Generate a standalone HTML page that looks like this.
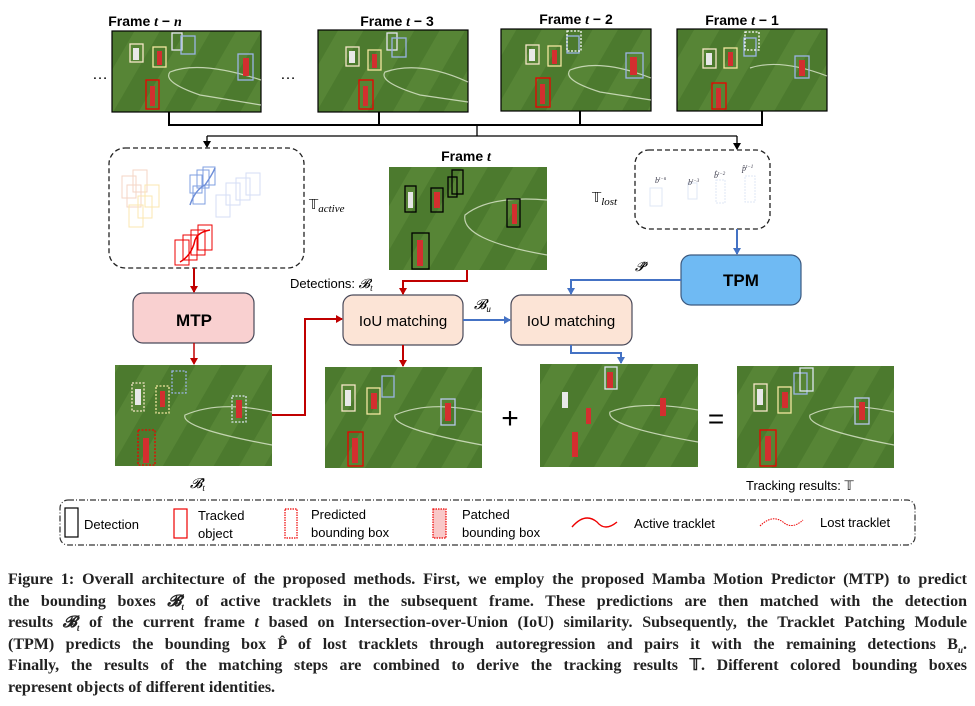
<!DOCTYPE html>
<html><head><meta charset="utf-8"><style>
body{margin:0;background:#fff;width:975px;height:706px;overflow:hidden;position:relative;font-family:"Liberation Sans",sans-serif}
svg{position:absolute;left:0;top:0}
.cap{position:absolute;left:8px;width:959px;font-family:"Liberation Serif",serif;font-weight:bold;font-size:16px;line-height:21px;color:#222}
.cap div{text-align:justify;text-align-last:justify;white-space:nowrap;height:21.5px}
.cap div.l{text-align-last:left}
</style></head><body>
<svg width="975" height="706" viewBox="0 0 975 706">
<defs>
<pattern id="f" patternUnits="userSpaceOnUse" width="44" height="44" patternTransform="rotate(30)">
<rect width="44" height="44" fill="#4c7a2e"/><rect width="22" height="44" fill="#578536"/>
</pattern>
<marker id="ak" markerWidth="8" markerHeight="8" refX="6" refY="4" orient="auto" markerUnits="userSpaceOnUse"><path d="M0,0L7,4L0,8z" fill="#000"/></marker>
<marker id="ar" markerWidth="8" markerHeight="8" refX="6" refY="4" orient="auto" markerUnits="userSpaceOnUse"><path d="M0,0L7,4L0,8z" fill="#c00000"/></marker>
<marker id="ab" markerWidth="8" markerHeight="8" refX="6" refY="4" orient="auto" markerUnits="userSpaceOnUse"><path d="M0,0L7,4L0,8z" fill="#4472c4"/></marker>
</defs>
<g font-family="Liberation Sans" font-weight="bold" font-size="14" text-anchor="middle">
<text x="145" y="26">Frame <tspan font-family="Liberation Serif" font-style="italic">t</tspan> − <tspan font-family="Liberation Serif" font-style="italic">n</tspan></text>
<text x="397" y="26">Frame <tspan font-family="Liberation Serif" font-style="italic">t</tspan> − 3</text>
<text x="576" y="24">Frame <tspan font-family="Liberation Serif" font-style="italic">t</tspan> − 2</text>
<text x="742" y="25">Frame <tspan font-family="Liberation Serif" font-style="italic">t</tspan> − 1</text>
<text x="466" y="161">Frame <tspan font-family="Liberation Serif" font-style="italic">t</tspan></text>
</g>
<text x="100" y="79" font-size="16" text-anchor="middle">…</text>
<text x="288" y="79" font-size="16" text-anchor="middle">…</text>
<g stroke="#000" stroke-width="1.2">
<rect x="112" y="31" width="149" height="81" fill="url(#f)"/>
<rect x="318" y="30" width="150" height="82" fill="url(#f)"/>
<rect x="501" y="29" width="150" height="82" fill="url(#f)"/>
<rect x="677" y="29" width="150" height="82" fill="url(#f)" />
</g>
<rect x="389" y="167" width="158" height="103" fill="url(#f)"/>
<rect x="115" y="365" width="157" height="101" fill="url(#f)"/>
<rect x="325" y="367" width="157" height="101" fill="url(#f)"/>
<rect x="540" y="364" width="158" height="103" fill="url(#f)"/>
<rect x="737" y="366" width="157" height="102" fill="url(#f)"/>
<g fill="none" stroke="#dfe8d0" stroke-width="1.2" opacity=".8">
<path d="M261,80 Q200,60 170,72 Q162,82 200,95 L261,105"/>
<path d="M468,82 Q420,60 385,72 Q378,82 420,95 L468,102"/>
<path d="M651,78 Q600,58 570,70 Q562,80 600,92 L651,100"/>
<path d="M827,76 Q780,58 750,68"/>
<path d="M547,200 Q490,195 465,215 Q460,240 547,255"/>
<path d="M272,412 Q220,400 185,415 Q180,428 272,445"/>
<path d="M482,412 Q430,400 395,415 Q390,428 482,445"/>
<path d="M698,410 Q640,400 610,412 Q605,426 698,442"/>
<path d="M894,412 Q840,400 810,415 Q805,428 894,445"/>
</g>
<g fill="none" stroke-width="1.3">
<g stroke="#f5e6c8"><rect x="130" y="44" width="13" height="18"/><rect x="346" y="47" width="13" height="19"/><rect x="526" y="45" width="13" height="19"/><rect x="703" y="49" width="13" height="19"/></g>
<g stroke="#f3e7a0"><rect x="153" y="47" width="13" height="20"/><rect x="368" y="50" width="13" height="20"/><rect x="548" y="46" width="13" height="20"/><rect x="724" y="48" width="13" height="20"/></g>
<g stroke="#e6e6f0"><rect x="172" y="33" width="10" height="17"/><rect x="387" y="33" width="10" height="17"/></g>
<g stroke="#9bb4e6"><rect x="181" y="36" width="14" height="18"/><rect x="238" y="54" width="15" height="26"/><rect x="392" y="38" width="14" height="19"/><rect x="567" y="36" width="12" height="17"/><rect x="626" y="53" width="17" height="25"/><rect x="744" y="38" width="12" height="18"/><rect x="795" y="56" width="14" height="22"/></g>
<g stroke="#e00"><rect x="146" y="80" width="13" height="29"/><rect x="359" y="80" width="14" height="29"/><rect x="536" y="78" width="14" height="29"/><rect x="712" y="83" width="14" height="26"/></g>
<g stroke="#fff" stroke-dasharray="2,1.5"><rect x="567" y="31" width="14" height="20"/><rect x="745" y="32" width="14" height="18"/></g>
<g stroke="#000"><rect x="405" y="186" width="11" height="26"/><rect x="431" y="188" width="12" height="24"/><rect x="448" y="177" width="9" height="20"/><rect x="452" y="170" width="11" height="24"/><rect x="507" y="199" width="13" height="28"/><rect x="412" y="233" width="17" height="36"/></g>
<g stroke-dasharray="2,1.5"><rect x="132" y="383" width="12" height="28" stroke="#f5e6c8"/><rect x="156" y="386" width="13" height="27" stroke="#f3e7a0"/><rect x="172" y="371" width="14" height="22" stroke="#9bb4e6"/><rect x="232" y="396" width="14" height="26" stroke="#dce6f0"/><rect x="138" y="430" width="17" height="35" stroke="#e00"/></g>
<rect x="342" y="385" width="13" height="26" stroke="#f5e6c8"/><rect x="367" y="388" width="13" height="26" stroke="#f3e7a0"/><rect x="382" y="376" width="12" height="21" stroke="#9bb4e6"/><rect x="441" y="399" width="14" height="26" stroke="#b8c8ec"/><rect x="348" y="432" width="15" height="34" stroke="#e00"/>
<rect x="605" y="367" width="12" height="22" stroke="#dce6f0"/>
<rect x="754" y="384" width="13" height="27" stroke="#f5e6c8"/><rect x="778" y="387" width="13" height="26" stroke="#f3e7a0"/><rect x="794" y="373" width="13" height="21" stroke="#9bb4e6"/><rect x="800" y="368" width="13" height="23" stroke="#dce6f0"/><rect x="855" y="398" width="14" height="26" stroke="#b8c8ec"/><rect x="760" y="430" width="16" height="36" stroke="#e00"/>
</g>
<g fill="#d32f2f"><rect x="150" y="86" width="5" height="20"/><rect x="363" y="86" width="5" height="20"/><rect x="540" y="84" width="5" height="20"/><rect x="716" y="88" width="5" height="20"/><rect x="417" y="240" width="6" height="26"/><rect x="143" y="438" width="6" height="25"/><rect x="352" y="438" width="6" height="25"/><rect x="572" y="432" width="6" height="25"/><rect x="765" y="436" width="6" height="25"/><rect x="512" y="204" width="5" height="20"/></g>
<g fill="#e8e8e8"><rect x="133" y="48" width="6" height="12"/><rect x="349" y="51" width="6" height="12"/><rect x="529" y="49" width="6" height="12"/><rect x="706" y="53" width="6" height="12"/><rect x="408" y="192" width="5" height="16"/><rect x="345" y="390" width="6" height="16"/><rect x="757" y="389" width="6" height="16"/><rect x="135" y="389" width="6" height="16"/><rect x="562" y="392" width="6" height="16"/></g>
<g fill="#d32f2f"><rect x="157" y="51" width="5" height="14"/><rect x="372" y="54" width="5" height="14"/><rect x="552" y="50" width="5" height="14"/><rect x="728" y="52" width="5" height="14"/><rect x="243" y="58" width="6" height="18"/><rect x="630" y="57" width="7" height="18"/><rect x="799" y="60" width="6" height="16"/><rect x="434" y="192" width="6" height="16"/><rect x="371" y="393" width="6" height="16"/><rect x="445" y="403" width="6" height="18"/><rect x="160" y="391" width="5" height="16"/><rect x="236" y="400" width="6" height="18"/><rect x="782" y="392" width="6" height="16"/><rect x="859" y="402" width="6" height="18"/><rect x="586" y="408" width="5" height="16"/><rect x="660" y="398" width="6" height="18"/><rect x="607" y="372" width="6" height="16"/></g>
<g fill="none" stroke="#000" stroke-width="2">
<path d="M169,112V125H762V111"/><path d="M379,112V125M580,111V125"/>
<path d="M477,125V136" stroke-width="1.3"/>
<path d="M207,136H737" stroke-width="1.3"/>
<path d="M207,136V147" stroke-width="1.3" marker-end="url(#ak)"/>
<path d="M737,136V149" stroke-width="1.3" marker-end="url(#ak)"/>
</g>
<rect x="109" y="148" width="195" height="120" rx="16" fill="none" stroke="#222" stroke-width="1.3" stroke-dasharray="5,3"/>
<rect x="635" y="150" width="135" height="79" rx="14" fill="none" stroke="#222" stroke-width="1.3" stroke-dasharray="5,3"/>
<g fill="none" stroke-width="1">
<g stroke="#f4d6c6"><rect x="122" y="176" width="14" height="22"/><rect x="133" y="170" width="14" height="22"/><rect x="127" y="185" width="14" height="22"/></g>
<g stroke="#fbe7b0"><rect x="145" y="185" width="14" height="22"/><rect x="138" y="196" width="14" height="22"/><rect x="129" y="205" width="14" height="22"/></g>
<g stroke="#7f9fe0"><rect x="190" y="175" width="12" height="18"/><rect x="197" y="170" width="12" height="18"/><rect x="203" y="167" width="12" height="18"/><rect x="193" y="186" width="12" height="18"/></g>
<g stroke="#d4def5"><rect x="226" y="183" width="14" height="22"/><rect x="236" y="178" width="14" height="22"/><rect x="246" y="173" width="14" height="22"/><rect x="216" y="195" width="14" height="22"/></g>
<g stroke="#e00"><rect x="175" y="240" width="14" height="25"/><rect x="183" y="235" width="14" height="25"/><rect x="191" y="230" width="14" height="25"/><rect x="198" y="225" width="14" height="25"/></g>
<path d="M180,262 Q192,255 195,240 Q198,232 210,230" stroke="#e00" stroke-width="1.5"/>
<path d="M190,205 Q195,190 205,185 Q212,175 215,168" stroke="#6f8fd8" stroke-width="1.5"/>
<g stroke="#dfe7f6"><rect x="650" y="188" width="12" height="18"/><rect x="688" y="183" width="9" height="16"/><rect x="716" y="180" width="9" height="23" stroke-dasharray="2,1"/><rect x="745" y="176" width="10" height="26" stroke-dasharray="2,1"/></g>
</g>
<g font-family="Liberation Serif" font-style="italic" font-size="8" fill="#334"><text x="655" y="183">b<tspan font-size="5" dy="-3">t−n</tspan></text><text x="688" y="185">b<tspan font-size="5" dy="-3">t−3</tspan></text><text x="714" y="178">b̂<tspan font-size="5" dy="-3">t−2</tspan></text><text x="742" y="171">p̂<tspan font-size="5" dy="-3">t−1</tspan></text></g>
<text x="309" y="209" font-family="DejaVu Sans" font-size="13">𝕋<tspan font-family="Liberation Serif" font-style="italic" font-size="11" dy="3">active</tspan></text>
<text x="592" y="202" font-family="DejaVu Sans" font-size="13">𝕋<tspan font-family="Liberation Serif" font-style="italic" font-size="11" dy="3">lost</tspan></text>
<rect x="133" y="293" width="121" height="50" rx="10" fill="#f9d0d0" stroke="#4a4a5a" stroke-width="1.2"/>
<text x="194" y="326" text-anchor="middle" font-weight="bold" font-size="17">MTP</text>
<rect x="343" y="295" width="120" height="50" rx="10" fill="#fce4d6" stroke="#4a4a5a" stroke-width="1.2"/>
<text x="403" y="326" text-anchor="middle" font-size="15">IoU matching</text>
<rect x="511" y="295" width="121" height="50" rx="10" fill="#fce4d6" stroke="#4a4a5a" stroke-width="1.2"/>
<text x="571" y="326" text-anchor="middle" font-size="15">IoU matching</text>
<rect x="681" y="255" width="120" height="50" rx="10" fill="#6fbaf3" stroke="#3c5a80" stroke-width="1.2"/>
<text x="741" y="286" text-anchor="middle" font-weight="bold" font-size="17">TPM</text>
<g fill="none" stroke-width="2">
<path d="M194,268V292" stroke="#c00000" marker-end="url(#ar)"/>
<path d="M194,343V364" stroke="#c00000" stroke-width="1.5" marker-end="url(#ar)"/>
<path d="M467,270V281H403V294" stroke="#c00000" marker-end="url(#ar)"/>
<path d="M272,415H305V319H342" stroke="#c00000" marker-end="url(#ar)"/>
<path d="M403,345V366" stroke="#c00000" marker-end="url(#ar)"/>
<path d="M737,229V254" stroke="#4472c4" marker-end="url(#ab)"/>
<path d="M681,280H571V294" stroke="#4472c4" marker-end="url(#ab)"/>
<path d="M463,320H510" stroke="#4472c4" marker-end="url(#ab)"/>
<path d="M571,345V353H621V363" stroke="#4472c4" marker-end="url(#ab)"/>
</g>
<text x="290" y="288" font-size="13">Detections: <tspan font-family="Liberation Serif" font-style="italic">𝓑<tspan font-size="9" dy="3">t</tspan></tspan></text>
<text x="474" y="309" font-family="Liberation Serif" font-style="italic" font-size="14">𝓑<tspan font-size="9" dy="3">u</tspan></text>
<text x="635" y="271" font-family="Liberation Serif" font-style="italic" font-size="13">𝓟̂</text>
<text x="190" y="488" font-family="Liberation Serif" font-style="italic" font-size="14">𝓑̂<tspan font-size="9" dy="3">t</tspan></text>
<text x="510" y="428" text-anchor="middle" font-size="30">+</text>
<text x="716" y="428" text-anchor="middle" font-size="28">=</text>
<text x="746" y="490" font-size="13">Tracking results: 𝕋</text>
<rect x="60" y="500" width="855" height="45" rx="8" fill="none" stroke="#333" stroke-width="1.2" stroke-dasharray="6,2,1,2"/>
<g font-size="13">
<rect x="65" y="508" width="13" height="29" fill="none" stroke="#000" stroke-width="1.2"/><text x="84" y="529">Detection</text>
<rect x="174" y="509" width="13" height="29" fill="none" stroke="#e00" stroke-width="1.2"/><text x="198" y="520">Tracked</text><text x="198" y="538">object</text>
<rect x="285" y="509" width="12" height="29" fill="none" stroke="#e00" stroke-width="1.2" stroke-dasharray="1.5,1"/><text x="311" y="519">Predicted</text><text x="311" y="537">bounding box</text>
<rect x="433" y="509" width="13" height="29" fill="#f9c8c8" stroke="#e00" stroke-width="1.2" stroke-dasharray="1.5,1"/><text x="462" y="519">Patched</text><text x="462" y="537">bounding box</text>
<path d="M572,527 Q585,512 597,522 Q605,532 617,522" fill="none" stroke="#e00" stroke-width="1.4"/><text x="634" y="528">Active tracklet</text>
<path d="M760,526 Q772,514 783,522 Q792,530 803,520" fill="none" stroke="#e00" stroke-width="1" stroke-dasharray="1.5,1"/><text x="820" y="527">Lost tracklet</text>
</g>
</svg>
<div class="cap" style="top:569px">
<div>Figure 1: Overall architecture of the proposed methods. First, we employ the proposed Mamba Motion Predictor (MTP) to predict</div>
<div>the bounding boxes <i>𝓑̂<sub style="font-size:9px">t</sub></i> of active tracklets in the subsequent frame. These predictions are then matched with the detection</div>
<div>results <i>𝓑<sub style="font-size:9px">t</sub></i> of the current frame <i>t</i> based on Intersection-over-Union (IoU) similarity. Subsequently, the Tracklet Patching Module</div>
<div>(TPM) predicts the bounding box P̂ of lost tracklets through autoregression and pairs it with the remaining detections B<sub style="font-size:9px"><i>u</i></sub>.</div>
<div>Finally, the results of the matching steps are combined to derive the tracking results 𝕋. Different colored bounding boxes</div>
<div class="l">represent objects of different identities.</div>
</div>
</body></html>
